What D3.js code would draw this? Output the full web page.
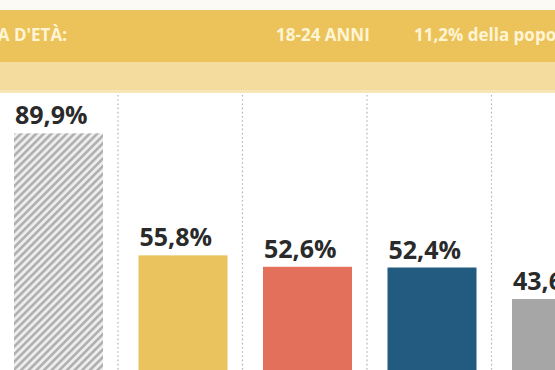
<!DOCTYPE html>
<html>
<head>
<meta charset="utf-8">
<script src="https://cdn.jsdelivr.net/npm/d3@7"></script>
<style>
  html, body { margin: 0; padding: 0; background: #fff; overflow: hidden; }
  svg { display: block; }
</style>
</head>
<body>
<svg id="chart" width="555" height="370"></svg>
<script>
// ---- data ----
const categories = ["Totale", "Gruppo 1", "Gruppo 2", "Gruppo 3", "Gruppo 4"];
const values = [89.9, 55.8, 52.6, 52.4, 43.6];
const valueLabels = ["89,9%", "55,8%", "52,6%", "52,4%", "43,6%"];
const barColors = ["url(#hatch)", "#EBC35E", "#E2705A", "#235A80", "#A6A6A6"];
const headerTexts = ["FASCIA D'ETÀ:", "18-24 ANNI", "11,2% della popolazione"];

const W = 555, H = 370;
const svg = d3.select("#chart");

// hatch pattern
const defs = svg.append("defs");
const pat = defs.append("pattern")
  .attr("id", "hatch").attr("patternUnits", "userSpaceOnUse")
  .attr("width", 5.4).attr("height", 5.4)
  .attr("patternTransform", "rotate(45)");
pat.append("rect").attr("width", 5.4).attr("height", 5.4).attr("fill", "#ededed");
pat.append("line").attr("x1", 1.3).attr("y1", 0).attr("x2", 1.3).attr("y2", 5.4)
  .attr("stroke", "#ababab").attr("stroke-width", 2.4);

// header bands
svg.append("rect").attr("x", 0).attr("y", 0).attr("width", W).attr("height", 10).attr("fill", "#fbfaf4");
svg.append("rect").attr("x", 0).attr("y", 10).attr("width", W).attr("height", 52).attr("fill", "#ECC25B");
svg.append("rect").attr("x", 0).attr("y", 62).attr("width", W).attr("height", 28).attr("fill", "#F3DC9D");
svg.append("rect").attr("x", 0).attr("y", 90).attr("width", W).attr("height", 3).attr("fill", "#F6E6B8");

const ht = svg.append("g").attr("font-family", "'Open Sans', sans-serif")
  .attr("font-weight", "bold").attr("font-size", 17).attr("fill", "#FFF5D4");
ht.append("text").attr("x", 67).attr("y", 41).attr("text-anchor", "end").text(headerTexts[0]);
ht.append("text").attr("x", 276).attr("y", 41).text(headerTexts[1]);
ht.append("text").attr("x", 414).attr("y", 41).text(headerTexts[2]);

// scales
const x = d3.scaleBand().domain(categories).range([14, 601]).paddingInner(0.2851).paddingOuter(0).align(0);
const y = d3.scaleLinear().domain([0, 100]).range([455, 97.2]);

// dotted dividers
const dividers = categories.slice(1);
svg.append("g").selectAll("line").data(dividers).join("line")
  .attr("x1", d => x(d) - 20.5).attr("x2", d => x(d) - 20.5)
  .attr("y1", 95).attr("y2", H)
  .attr("stroke", "#b5b5b5").attr("stroke-width", 1.2)
  .attr("stroke-dasharray", "1.6,2.6");

// bars
svg.append("g").selectAll("rect").data(values).join("rect")
  .attr("x", (d, i) => x(categories[i]))
  .attr("y", d => y(d))
  .attr("width", x.bandwidth())
  .attr("height", d => y(0) - y(d))
  .attr("fill", (d, i) => barColors[i]);

// value labels
svg.append("g").selectAll("text").data(values).join("text")
  .attr("x", (d, i) => x(categories[i]) + 1)
  .attr("y", d => y(d) - 9)
  .attr("font-family", "'Open Sans', sans-serif")
  .attr("font-weight", "bold").attr("font-size", 25)
  .attr("fill", "#2a2a2a")
  .text((d, i) => valueLabels[i]);
</script>
</body>
</html>
